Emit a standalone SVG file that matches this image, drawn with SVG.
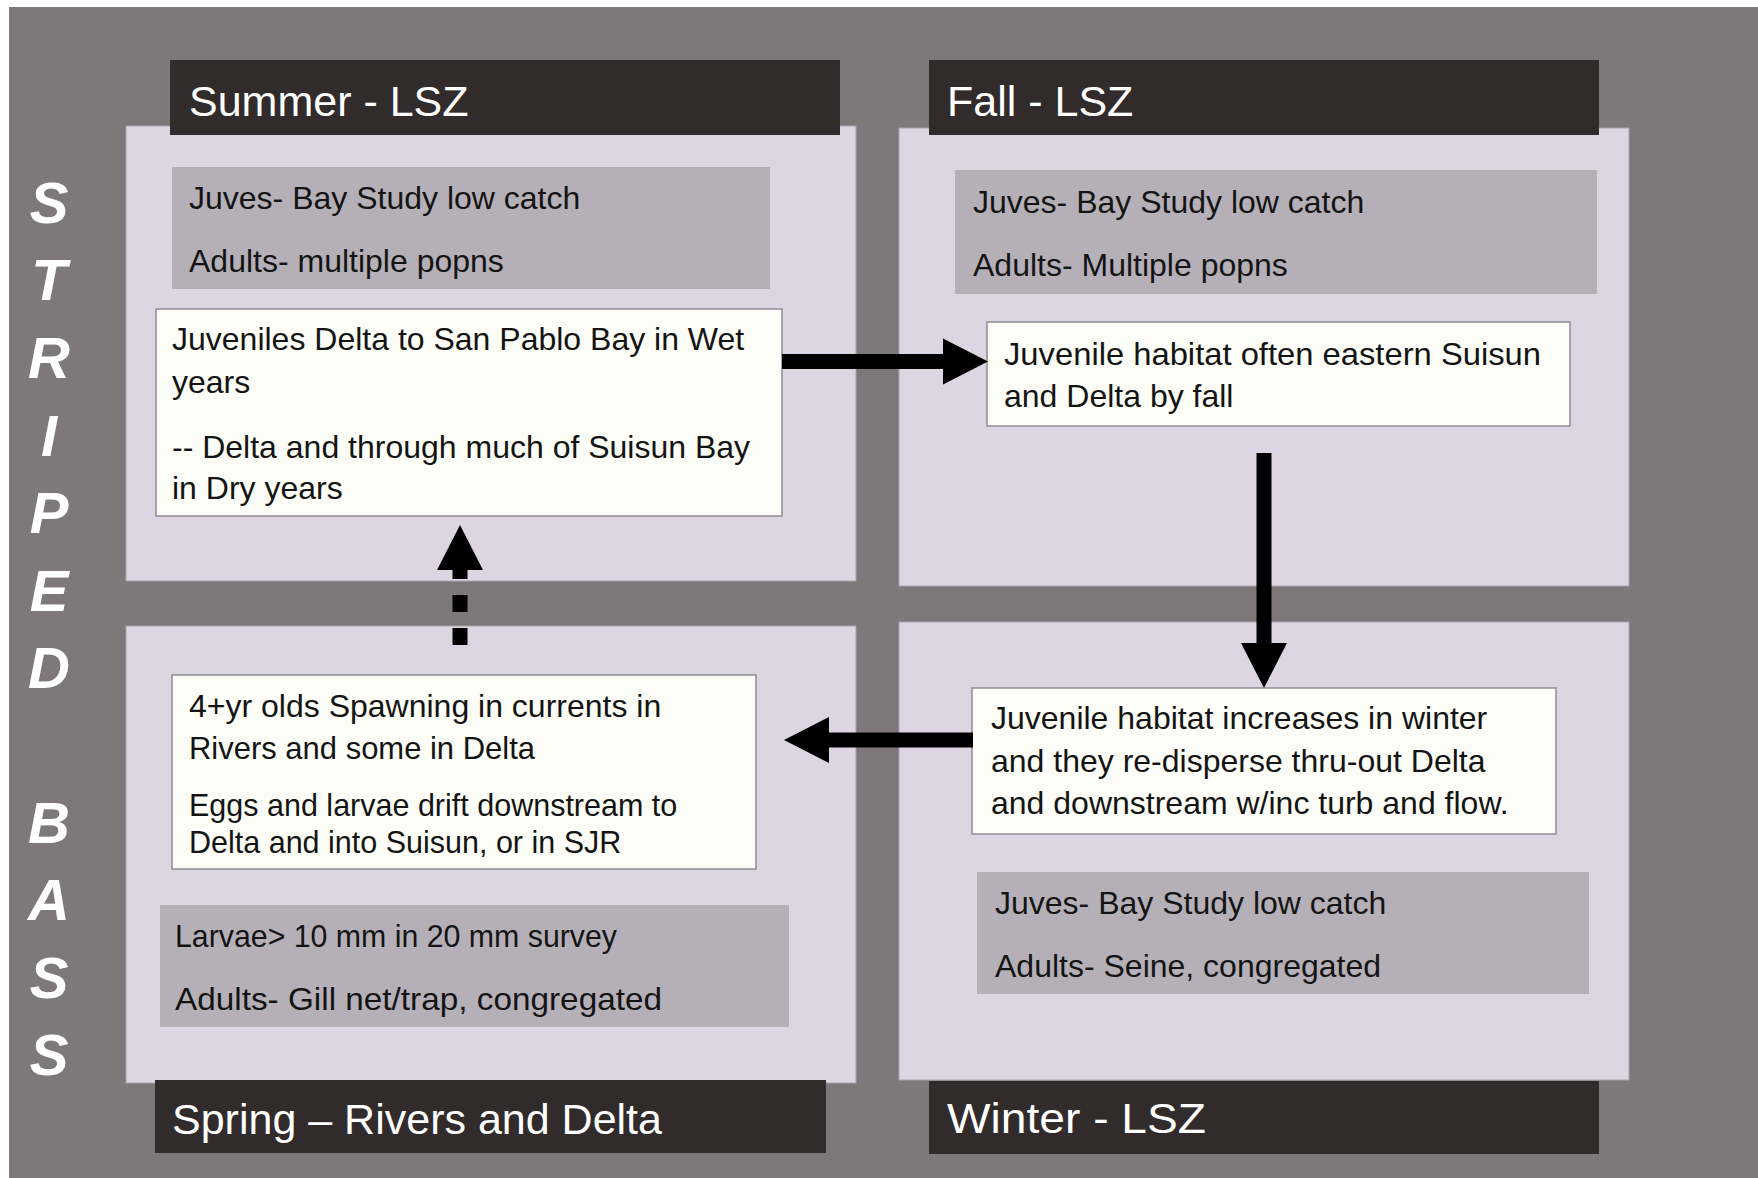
<svg xmlns="http://www.w3.org/2000/svg" width="1758" height="1178" viewBox="0 0 1758 1178">
  <style>
    .bg { fill: #7d797b; }
    .panel { fill: #dbd6e2; stroke: #a8a3ad; stroke-width: 1; }
    .graybox { fill: #b5b0b8; }
    .whitebox { fill: #fcfdf6; stroke: #8f8c92; stroke-width: 1.5; }
    .header { fill: #312c2b; }
    .hdr { font-family: "Liberation Sans", Arial, sans-serif; font-size: 43px; fill: #ffffff; }
    .body { font-family: "Liberation Sans", Arial, sans-serif; font-size: 32px; fill: #141414; }
    .arial { font-family: "Liberation Sans", Arial, sans-serif; font-size: 30.5px; fill: #141414; }
    .side { font-family: "Liberation Sans", Arial, sans-serif; font-size: 58px; font-weight: bold; font-style: italic; fill: #ffffff; text-anchor: middle; }
    .conn { stroke: #000000; stroke-width: 15; fill: none; marker-end: url(#head); }
  </style>
  <defs>
    <marker id="head" markerUnits="userSpaceOnUse" markerWidth="46" markerHeight="46" refX="0" refY="23" orient="auto" overflow="visible">
      <path d="M0,0 L45,23 L0,46 Z" fill="#000000"/>
    </marker>
  </defs>

  <rect x="0" y="0" width="1758" height="1178" fill="#ffffff"/>
  <rect class="bg" x="9" y="7" width="1749" height="1171"/>

  <g id="title">
    <text class="side" x="49" y="223">S</text>
    <text class="side" x="49" y="300">T</text>
    <text class="side" x="49" y="378">R</text>
    <text class="side" x="49" y="456">I</text>
    <text class="side" x="49" y="533">P</text>
    <text class="side" x="49" y="611">E</text>
    <text class="side" x="49" y="688">D</text>
    <text class="side" x="49" y="843">B</text>
    <text class="side" x="49" y="920">A</text>
    <text class="side" x="49" y="998">S</text>
    <text class="side" x="49" y="1075">S</text>
  </g>

  <g id="summer">
    <rect class="panel" x="126" y="126" width="730" height="455"/>
    <rect class="header" x="170" y="60" width="670" height="75"/>
    <text class="hdr" x="189" y="116">Summer - LSZ</text>
    <rect class="graybox" x="172" y="167" width="598" height="122"/>
    <text class="body" x="189" y="209">Juves- Bay Study low catch</text>
    <text class="body" x="189" y="272">Adults- multiple popns</text>
    <rect class="whitebox" x="156" y="309" width="626" height="207"/>
    <text class="body" x="172" y="350">Juveniles Delta to San Pablo Bay in Wet</text>
    <text class="body" x="172" y="393">years</text>
    <text class="body" x="172" y="458">-- Delta and through much of Suisun Bay</text>
    <text class="body" x="172" y="499">in Dry years</text>
  </g>

  <g id="fall">
    <rect class="panel" x="899" y="128" width="730" height="458"/>
    <rect class="header" x="929" y="60" width="670" height="75"/>
    <text class="hdr" x="947" y="116">Fall - LSZ</text>
    <rect class="graybox" x="955" y="170" width="642" height="124"/>
    <text class="body" x="973" y="213">Juves- Bay Study low catch</text>
    <text class="body" x="973" y="276">Adults- Multiple popns</text>
    <rect class="whitebox" x="987" y="322" width="583" height="104"/>
    <text class="body" x="1004" y="365" textLength="537" lengthAdjust="spacingAndGlyphs">Juvenile habitat often eastern Suisun</text>
    <text class="body" x="1004" y="407">and Delta by fall</text>
  </g>

  <g id="spring">
    <rect class="panel" x="126" y="626" width="730" height="457"/>
    <rect class="header" x="155" y="1080" width="671" height="73"/>
    <text class="hdr" x="172" y="1134">Spring – Rivers and Delta</text>
    <rect class="whitebox" x="172" y="675" width="584" height="194"/>
    <text class="body" x="189" y="717">4+yr olds Spawning in currents in</text>
    <text class="body" x="189" y="759" textLength="346" lengthAdjust="spacingAndGlyphs">Rivers and some in Delta</text>
    <text class="arial" x="189" y="816">Eggs and larvae drift downstream to</text>
    <text class="arial" x="189" y="853">Delta and into Suisun, or in SJR</text>
    <rect class="graybox" x="160" y="905" width="629" height="122"/>
    <text class="body" x="175" y="947" textLength="442" lengthAdjust="spacingAndGlyphs">Larvae&gt; 10 mm in 20 mm survey</text>
    <text class="body" x="175" y="1010" textLength="487" lengthAdjust="spacingAndGlyphs">Adults- Gill net/trap, congregated</text>
  </g>

  <g id="winter">
    <rect class="panel" x="899" y="622" width="730" height="458"/>
    <rect class="header" x="929" y="1081" width="670" height="73"/>
    <text class="hdr" x="947" y="1133" textLength="259" lengthAdjust="spacingAndGlyphs">Winter - LSZ</text>
    <rect class="whitebox" x="972" y="688" width="584" height="146"/>
    <text class="body" x="991" y="729">Juvenile habitat increases in winter</text>
    <text class="body" x="991" y="772">and they re-disperse thru-out Delta</text>
    <text class="body" x="991" y="814">and downstream w/inc turb and flow.</text>
    <rect class="graybox" x="977" y="872" width="612" height="122"/>
    <text class="body" x="995" y="914">Juves- Bay Study low catch</text>
    <text class="body" x="995" y="977">Adults- Seine, congregated</text>
  </g>

  <g id="connectors">
    <line class="conn" x1="782" y1="361.5" x2="943" y2="361.5"/>
    <line class="conn" x1="1264" y1="453" x2="1264" y2="643" stroke-width="16"/>
    <line class="conn" x1="973" y1="740" x2="829" y2="740" stroke-width="16"/>
    <line class="conn" x1="460" y1="645" x2="460" y2="570" stroke-width="14" stroke-dasharray="17 16"/>
  </g>
</svg>
